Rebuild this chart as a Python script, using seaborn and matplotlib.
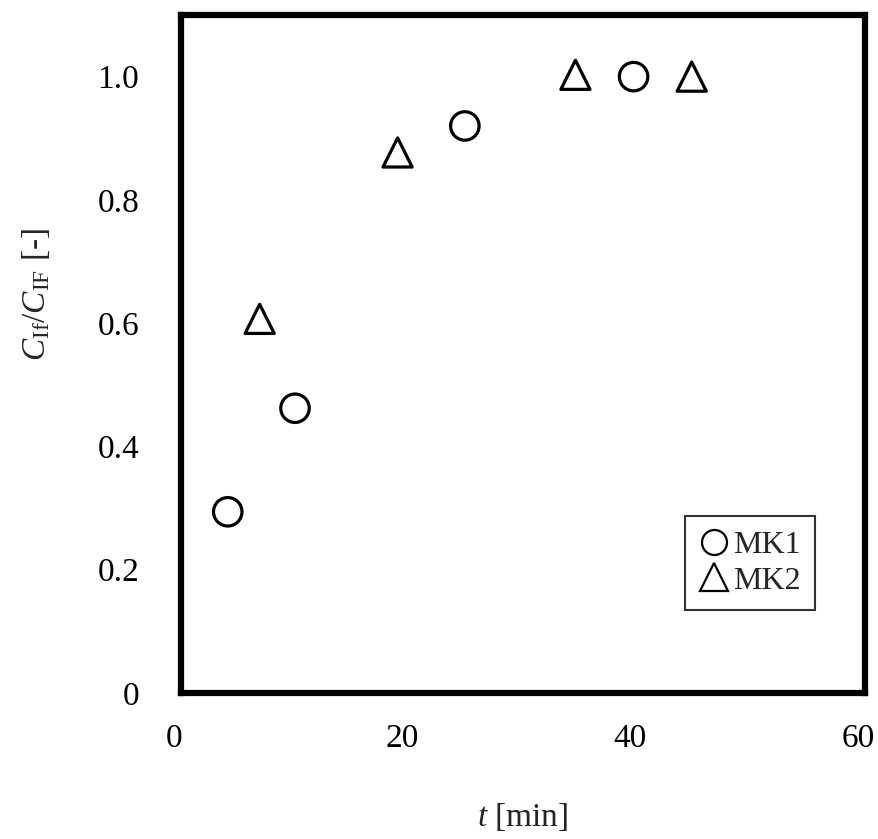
import matplotlib
matplotlib.use("Agg")
import matplotlib.pyplot as plt
import matplotlib.transforms as mtransforms
import seaborn as sns
import pandas as pd
from matplotlib.lines import Line2D

# Data
mk1_t = [4.1, 10.0, 24.9, 39.7]
mk1_c = [0.294, 0.462, 0.920, 1.000]
mk2_t = [6.9, 19.0, 34.6, 44.8]
mk2_c = [0.607, 0.877, 1.003, 1.000]
x_ticks = [0, 20, 40, 60]
y_ticks = [0, 0.2, 0.4, 0.6, 0.8, 1.0]
y_ticklabels = ["0", "0.2", "0.4", "0.6", "0.8", "1.0"]

df = pd.concat([
    pd.DataFrame({"t": mk1_t, "c": mk1_c, "series": "MK1"}),
    pd.DataFrame({"t": mk2_t, "c": mk2_c, "series": "MK2"}),
])

sns.set_style("white")
plt.rcParams["font.family"] = ["Liberation Serif", "DejaVu Serif"]
plt.rcParams["mathtext.fontset"] = "custom"
plt.rcParams["mathtext.rm"] = "Liberation Serif"
plt.rcParams["mathtext.it"] = "Liberation Serif:italic"

fig = plt.figure(figsize=(8.79, 8.39), dpi=100)
ax = fig.add_axes([181 / 879, 1 - 693 / 839, (865 - 181) / 879, (693 - 15) / 839])

markers = {"MK1": "o", "MK2": "^"}
sizes = {"MK1": 420, "MK2": 440}
for name, sub in df.groupby("series"):
    sns.scatterplot(data=sub, x="t", y="c", marker=markers[name], s=sizes[name],
                    facecolors="none", edgecolor="black", linewidth=2.3, ax=ax,
                    legend=False, zorder=3, clip_on=False)

ax.set_xlim(0, 60)
ax.set_ylim(0, 1.1)
ax.set_xticks(x_ticks)
ax.set_yticks(y_ticks)
ax.set_yticklabels(y_ticklabels)
ax.tick_params(direction="in", length=9, width=4.5, labelsize=24, colors="black")
ax.tick_params(axis="y", pad=30)
ax.tick_params(axis="x", pad=22)
for sp in ax.spines.values():
    sp.set_linewidth(4.5)
    sp.set_color("black")

shift = mtransforms.ScaledTranslation(-7 / 100, 0, fig.dpi_scale_trans)
for lbl in ax.get_xticklabels():
    lbl.set_transform(lbl.get_transform() + shift)

ax.set_xlabel(r"$t$ [min]", fontsize=24, labelpad=34)
ax.set_ylabel(r"$C_{\mathrm{If}}/C_{\mathrm{IF}}$ [-]", fontsize=24)
ax.yaxis.set_label_coords((52 - 181) / 684, (693 - 295) / 678)

handles = [
    Line2D([], [], marker="o", linestyle="none", markerfacecolor="none",
           markeredgecolor="black", markersize=18, markeredgewidth=1.6, label="MK1"),
    Line2D([], [], marker="^", linestyle="none", markerfacecolor="none",
           markeredgecolor="black", markersize=20, markeredgewidth=1.6, label="MK2"),
]
leg = ax.legend(handles=handles, loc="lower right",
                bbox_to_anchor=((815 - 181) / 684, (693 - 610) / 678),
                fontsize=23, frameon=True, fancybox=False, handlelength=0.9,
                handletextpad=0.15, borderpad=0.45, labelspacing=0.2,
                borderaxespad=0)
leg.get_frame().set_edgecolor("black")
leg.get_frame().set_linewidth(1.5)

fig.savefig("out.png", dpi=100)
